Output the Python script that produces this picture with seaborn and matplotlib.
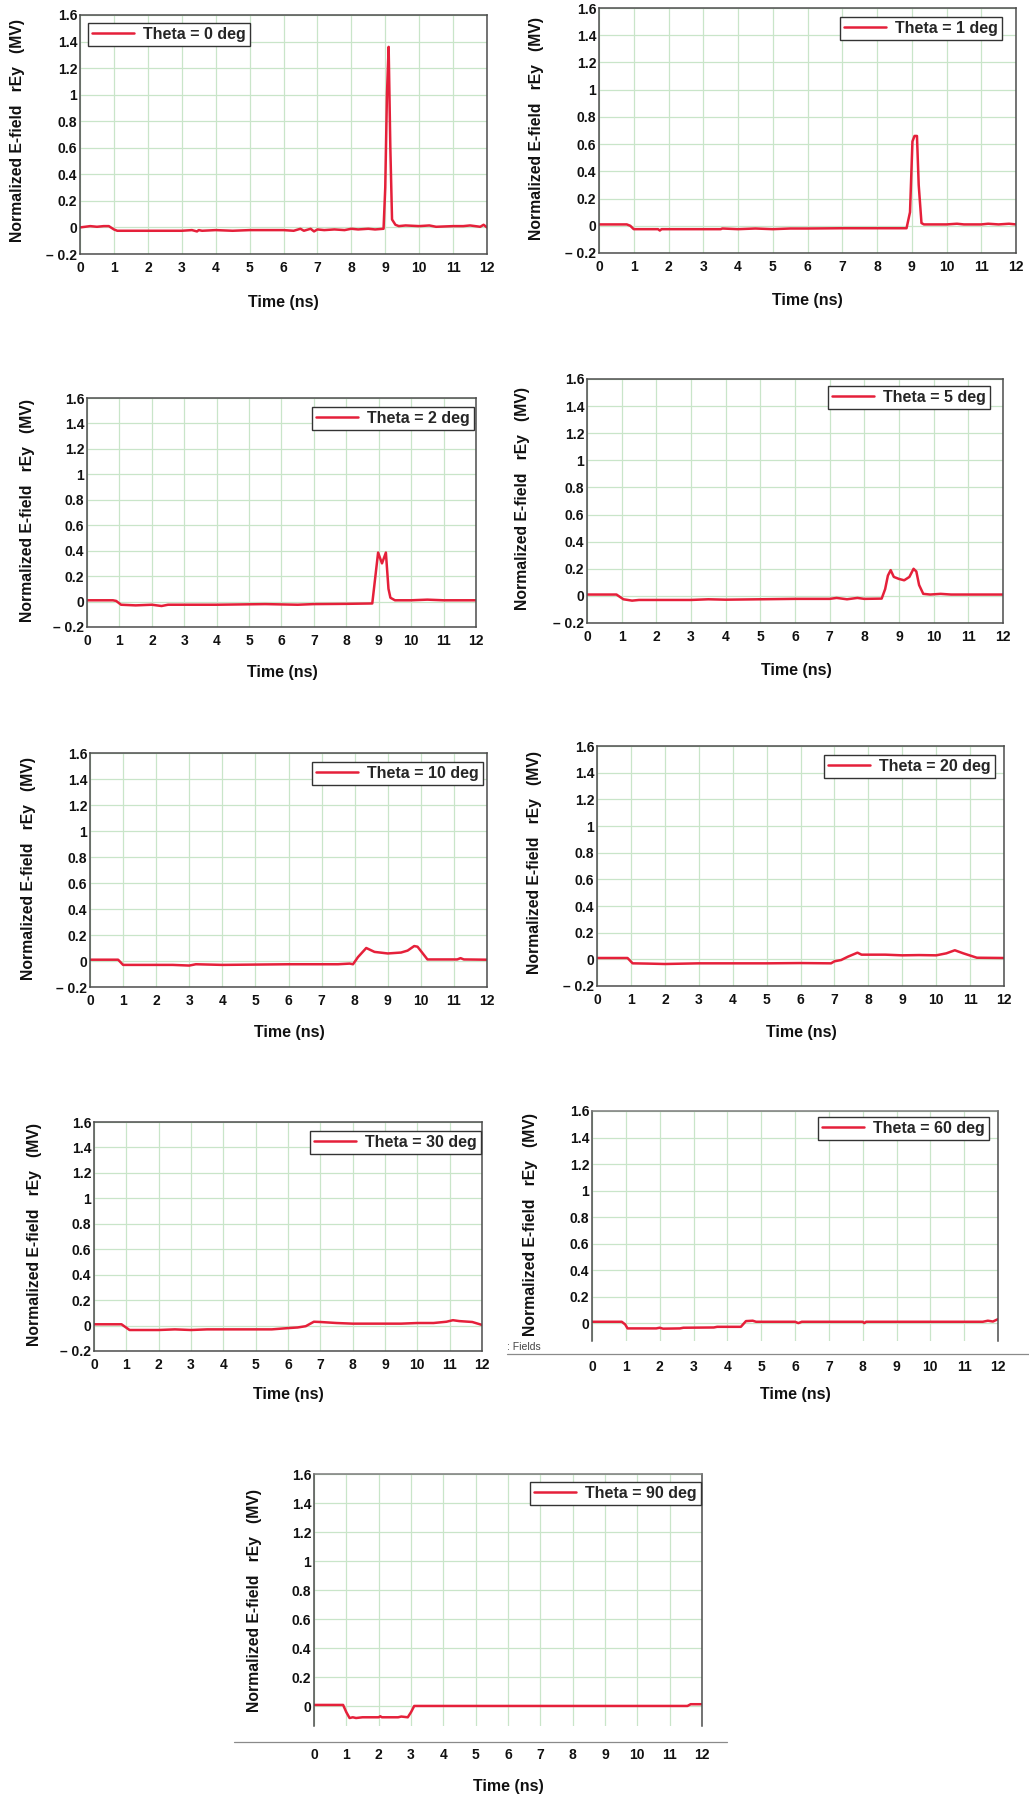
import numpy as np
import pandas as pd
import matplotlib
matplotlib.use("Agg")
import matplotlib.pyplot as plt
from matplotlib.lines import Line2D
import seaborn as sns

# ---------------- data (time in ns, normalized rEy in MV) ----------------
thetas = [0, 1, 2, 5, 10, 20, 30, 60, 90]

trace_0 = [(0, 0.0), (0.3, 0.01), (0.5, 0.005), (0.7, 0.01), (0.85, 0.01), (1.0, -0.015), (1.1, -0.025),
           (1.5, -0.025), (2.0, -0.025), (2.5, -0.025), (3.0, -0.025), (3.3, -0.02), (3.45, -0.03),
           (3.5, -0.02), (3.6, -0.025), (4.0, -0.02), (4.5, -0.025), (5.0, -0.02), (5.5, -0.02),
           (6.0, -0.02), (6.3, -0.025), (6.5, -0.01), (6.6, -0.025), (6.8, -0.01), (6.9, -0.03),
           (7.0, -0.015), (7.2, -0.02), (7.5, -0.015), (7.8, -0.02), (8.0, -0.01), (8.2, -0.015),
           (8.5, -0.01), (8.7, -0.015), (8.95, -0.01), (9.0, 0.3), (9.05, 1.0), (9.1, 1.36),
           (9.15, 0.6), (9.2, 0.06), (9.3, 0.02), (9.4, 0.01), (9.6, 0.015), (10.0, 0.01),
           (10.3, 0.015), (10.5, 0.005), (11.0, 0.01), (11.3, 0.01), (11.5, 0.015), (11.8, 0.005),
           (11.9, 0.02), (12.0, 0.0)]

trace_1 = [(0, 0.01), (0.3, 0.01), (0.8, 0.01), (0.9, 0.0), (1.0, -0.025), (1.7, -0.025), (1.75, -0.035),
           (1.8, -0.025), (3.5, -0.025), (3.55, -0.02), (4.0, -0.025), (4.5, -0.02), (5.0, -0.025),
           (5.5, -0.02), (6.0, -0.02), (7.0, -0.018), (8.0, -0.018), (8.85, -0.018), (8.95, 0.1),
           (9.02, 0.62), (9.08, 0.66), (9.15, 0.66), (9.2, 0.3), (9.28, 0.02), (9.35, 0.01),
           (10.0, 0.01), (10.3, 0.015), (10.5, 0.01), (11.0, 0.01), (11.2, 0.015), (11.5, 0.01),
           (11.8, 0.015), (12.0, 0.01)]

trace_2 = [(0, 0.01), (0.8, 0.01), (0.9, 0.005), (1.05, -0.025), (1.5, -0.03), (2.0, -0.025),
           (2.3, -0.035), (2.5, -0.025), (4.0, -0.025), (5.5, -0.02), (6.5, -0.025), (7.0, -0.02),
           (8.0, -0.018), (8.8, -0.015), (8.98, 0.385), (9.1, 0.3), (9.22, 0.385), (9.3, 0.1),
           (9.36, 0.03), (9.5, 0.01), (10.0, 0.01), (10.5, 0.015), (11.0, 0.01), (12.0, 0.01)]

trace_5 = [(0, 0.01), (0.85, 0.01), (1.05, -0.025), (1.3, -0.035), (1.5, -0.03), (3.0, -0.03),
           (3.5, -0.025), (4.0, -0.028), (5.0, -0.025), (6.0, -0.022), (7.0, -0.022), (7.2, -0.015),
           (7.5, -0.025), (7.8, -0.015), (8.0, -0.022), (8.5, -0.02), (8.6, 0.05), (8.68, 0.15),
           (8.76, 0.19), (8.85, 0.14), (9.0, 0.125), (9.15, 0.115), (9.3, 0.14), (9.42, 0.2),
           (9.5, 0.18), (9.58, 0.08), (9.7, 0.015), (9.9, 0.01), (10.2, 0.015), (10.5, 0.01),
           (11.0, 0.01), (12.0, 0.01)]

trace_10 = [(0, 0.01), (0.85, 0.01), (1.0, -0.03), (1.5, -0.03), (2.5, -0.03), (3.0, -0.035),
            (3.2, -0.025), (4.0, -0.03), (6.0, -0.025), (7.5, -0.025), (7.85, -0.02), (7.95, -0.025),
            (8.1, 0.03), (8.35, 0.1), (8.6, 0.07), (9.0, 0.058), (9.4, 0.065), (9.6, 0.08),
            (9.8, 0.115), (9.9, 0.11), (10.2, 0.012), (11.1, 0.012), (11.2, 0.022), (11.3, 0.012),
            (12.0, 0.01)]

trace_20 = [(0, 0.01), (0.9, 0.01), (1.05, -0.03), (1.5, -0.032), (2.0, -0.035), (3.0, -0.03),
            (5.0, -0.03), (6.0, -0.028), (6.9, -0.03), (7.0, -0.015), (7.2, -0.005), (7.4, 0.02),
            (7.68, 0.05), (7.8, 0.035), (8.5, 0.035), (9.0, 0.03), (9.5, 0.032), (10.0, 0.03),
            (10.3, 0.045), (10.55, 0.068), (10.8, 0.045), (11.2, 0.012), (12.0, 0.01)]

trace_30 = [(0, 0.01), (0.85, 0.01), (1.1, -0.035), (2.0, -0.035), (2.5, -0.03), (3.0, -0.035),
            (3.5, -0.03), (5.5, -0.03), (6.0, -0.02), (6.3, -0.015), (6.55, -0.005), (6.8, 0.03),
            (7.0, 0.028), (7.5, 0.02), (8.0, 0.015), (9.5, 0.015), (10.0, 0.02), (10.5, 0.02),
            (10.9, 0.03), (11.1, 0.042), (11.3, 0.035), (11.7, 0.028), (12.0, 0.005)]

trace_60 = [(0, 0.01), (0.88, 0.01), (0.98, -0.01), (1.05, -0.04), (1.9, -0.04), (2.0, -0.035),
            (2.1, -0.042), (2.6, -0.04), (2.7, -0.035), (3.6, -0.033), (3.7, -0.028), (4.4, -0.028),
            (4.55, 0.015), (4.75, 0.018), (4.85, 0.01), (6.0, 0.01), (6.1, 0.0), (6.2, 0.01),
            (8.0, 0.01), (8.05, 0.0), (8.1, 0.01), (11.55, 0.01), (11.7, 0.018), (11.85, 0.012),
            (12.0, 0.03)]

trace_90 = [(0, 0.01), (0.9, 0.01), (1.0, -0.04), (1.1, -0.08), (1.2, -0.075), (1.3, -0.08),
            (1.5, -0.075), (2.0, -0.075), (2.05, -0.068), (2.1, -0.075), (2.6, -0.075), (2.7, -0.07),
            (2.9, -0.075), (3.0, -0.04), (3.1, 0.003), (11.55, 0.003), (11.65, 0.015), (12.0, 0.015)]

traces = [trace_0, trace_1, trace_2, trace_5, trace_10, trace_20, trace_30, trace_60, trace_90]

x_ticks = list(range(0, 13))
y_ticks = [-0.2, 0, 0.2, 0.4, 0.6, 0.8, 1.0, 1.2, 1.4, 1.6]
y_tick_labels = ["\u2013 0.2", "0", "0.2", "0.4", "0.6", "0.8", "1", "1.2", "1.4", "1.6"]
y_label = "Normalized E-field   rEy   (MV)"
x_label = "Time (ns)"

# ---------------- layout (pixels of a 1029 x 1798 canvas) ----------------
W, H = 1029, 1798
# left, right, top (y=1.6), bottom
boxes = [(80, 487, 15, 254), (599, 1016, 8, 253),
         (87, 476, 398, 627), (587, 1003, 379, 623),
         (90, 487, 753, 987), (597, 1004, 746, 986),
         (94, 482, 1122, 1351), (592, 998, 1111, 1341),
         (314, 702, 1474, 1726)]
clipped = [False] * 7 + [True, True]
legend_pos = [(88, 23), (840, 17), (312, 407), (828, 386), (312, 762),
              (824, 755), (310, 1131), (818, 1117), (530, 1482)]
ylabel_pos = [(18, 131), (536, 129), (28, 510), (523, 498), (29, 868),
              (535, 863), (35, 1234), (530, 1225), (255, 1601)]
xlabel_pos = [(283, 302), (807, 301), (282, 672), (796, 671), (289, 1033),
              (801, 1033), (288, 1395), (795, 1394), (508, 1786)]

sns.set_style("white")
plt.rcParams["font.family"] = ["Liberation Sans", "DejaVu Sans"]
plt.rcParams["font.weight"] = "bold"

RED = "#e5203a"
SPINE = "#4d4d4d"
GRID = "#c9e5c9"

fig = plt.figure(figsize=(W / 100, H / 100), dpi=100)
fig.patch.set_facecolor("white")

for i, (theta, tr) in enumerate(zip(thetas, traces)):
    L, R, T, B = boxes[i]
    ax = fig.add_axes([L / W, 1 - B / H, (R - L) / W, (B - T) / H])
    df = pd.DataFrame(tr, columns=["t", "v"])
    sns.lineplot(data=df, x="t", y="v", ax=ax, color=RED, linewidth=1.8,
                 estimator=None, sort=False, label=f"Theta = {theta} deg")
    ax.set_xticks(x_ticks)
    ax.set_xticklabels([str(v) for v in x_ticks])
    ax.set_yticks(y_ticks)
    ax.set_yticklabels(y_tick_labels)
    ax.set_xlim(0, 12)
    if clipped[i]:
        ax.set_ylim(-0.135, 1.6)
    else:
        ax.set_ylim(-0.2, 1.6)
    ax.grid(True, color=GRID, linewidth=0.9)
    ax.set_axisbelow(True)
    ax.set_xlabel("")
    ax.set_ylabel("")
    for s in ax.spines.values():
        s.set_color(SPINE)
        s.set_linewidth(1.1)
        s.set_visible(True)
    if clipped[i]:
        ax.spines["bottom"].set_visible(False)
        ax.spines["top"].set_color("#7a7a7a")
    xpad = 14 if clipped[i] else 5
    if i == 8:
        xpad = 16
    ax.tick_params(axis="x", length=0, labelsize=10, pad=xpad, colors="#111111")
    ax.tick_params(axis="y", length=0, labelsize=10, pad=2, colors="#111111")
    for lbl in ax.get_xticklabels() + ax.get_yticklabels():
        lbl.set_fontweight("bold")

    lx, ly = legend_pos[i]
    leg = ax.legend(loc="upper left", bbox_to_anchor=(lx / W, 1 - ly / H),
                    bbox_transform=fig.transFigure, borderaxespad=0,
                    frameon=True, fancybox=False, framealpha=1,
                    handlelength=2.6, handletextpad=0.6, borderpad=0.25,
                    prop={"weight": "bold", "size": 11.5})
    leg.get_frame().set_edgecolor("#333333")
    leg.get_frame().set_linewidth(1.0)
    for h in leg.get_lines():
        h.set_linewidth(1.8)

    yx, yy = ylabel_pos[i]
    fig.text(yx / W, 1 - yy / H, y_label, rotation=90, ha="center", va="center",
             fontsize=11.3, fontweight="bold", color="#111111")
    xx, xy = xlabel_pos[i]
    fig.text(xx / W, 1 - xy / H, x_label, ha="center", va="center",
             fontsize=11.5, fontweight="bold", color="#111111")

# separator lines beneath the clipped panels
fig.add_artist(Line2D([507 / W, 1.0], [1 - 1354 / H, 1 - 1354 / H],
                      transform=fig.transFigure, color="#8a8a8a", linewidth=0.9))
fig.add_artist(Line2D([234 / W, 727 / W], [1 - 1742 / H, 1 - 1742 / H],
                      transform=fig.transFigure, color="#8a8a8a", linewidth=0.9))
fig.text(507 / W, 1 - 1347 / H, ": Fields", ha="left", va="center",
         fontsize=7.5, fontweight="normal", color="#444444")

fig.savefig("out.png", dpi=100, facecolor="white")
